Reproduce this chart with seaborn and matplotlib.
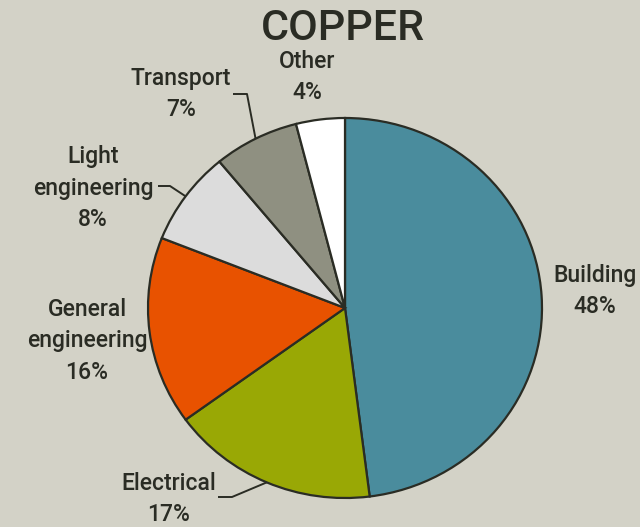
import numpy as np
import matplotlib
matplotlib.use("Agg")
from matplotlib import pyplot as plt
import seaborn as sns

##############################################
# Data

sectors = ["Building", "Electrical", "General\nengineering", "Light\nengineering", "Transport", "Other"]
shares = [48, 17, 16, 8, 7, 4]
colours = ["#4a8c9d", "#99a805", "#e85200", "#dcdcdc", "#8f9081", "#ffffff"]

title = "COPPER"

##############################################

bg = "#d3d2c7"
ink = "#2a2c24"

sns.set_theme(style="white", rc={"figure.facecolor": bg, "axes.facecolor": bg})
plt.rcParams["font.family"] = ["Roboto", "DejaVu Sans"]

W, H = 640, 527
fig = plt.figure(figsize=(W / 100, H / 100), dpi=100)
ax = fig.add_axes([0, 0, 1, 1])

# pie is slightly wider than tall in the reference
cx, cy, rx, ry = 345, 308, 197, 190


def px(x, y):
    """Pixel position (from top-left) -> data coords."""
    return (x - cx) / rx, (cy - y) / ry


wedges, _ = ax.pie(
    shares,
    colors=colours,
    startangle=90,
    counterclock=False,
    wedgeprops={"edgecolor": ink, "linewidth": 1.6},
)
ax.set_aspect("auto")
ax.set_xlim(px(0, 0)[0], px(W, 0)[0])
ax.set_ylim(px(0, H)[1], px(0, 0)[1])
ax.axis("off")

# label centres (pixels)
label_pos = {
    "Building": (595, 291),
    "Electrical": (169, 499),
    "General\nengineering": (87, 341),
    "Light\nengineering": (93, 188),
    "Transport": (181, 94),
    "Other": (307, 77),
}
# leader lines: horizontal tick x0, x1 at y (pixels), then to wedge edge
leaders = {
    "Electrical": (218, 232, 497),
    "Light\nengineering": (158, 170, 186),
    "Transport": (233, 247, 94),
}

for w, name, val in zip(wedges, sectors, shares):
    x, y = px(*label_pos[name])
    ax.text(x, y, f"{name}\n{val}%", ha="center", va="center",
            fontsize=16.5, fontweight="medium", color=ink, linespacing=1.46)
    if name in leaders:
        x0, x1, yl = leaders[name]
        mid = np.deg2rad((w.theta1 + w.theta2) / 2)
        ex, ey = np.cos(mid), np.sin(mid)
        (ax0, ay0), (ax1, _) = px(x0, yl), px(x1, yl)
        ax.plot([ax0, ax1, ex], [ay0, ay0, ey], color=ink, lw=1.4,
                solid_capstyle="butt")

tx, ty = px(343, 29)
ax.text(tx, ty, title, ha="center", va="center", fontsize=31,
        fontweight="medium", color=ink)

fig.savefig("out.png", dpi=100, facecolor=bg)
